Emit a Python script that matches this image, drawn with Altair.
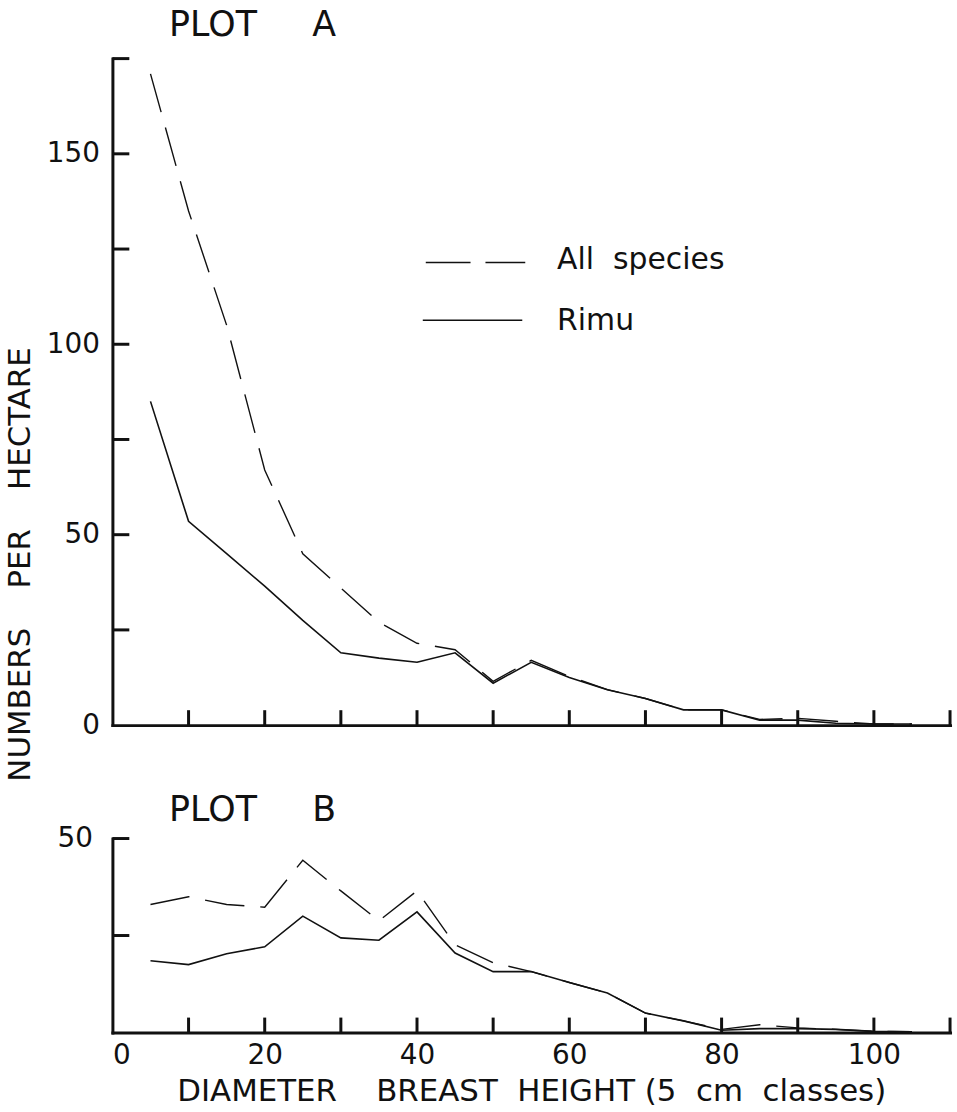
import altair as alt
import pandas as pd

# ---- data ----
dbh = [5, 10, 15, 20, 25, 30, 35, 40, 45, 50, 55, 60, 65, 70, 75, 80, 85, 90, 95, 100, 105]
a_all = [171, 135, 105, 67, 45, 36, 27, 21.5, 19.8, 11.5, 17, 12.8, 9.3, 7, 4, 4, 1.5, 1.8, 1.0, 0.3, 0.3]
a_rimu = [85, 53.5, 45, 36.5, 27.5, 19, 17.6, 16.5, 19, 11, 16.5, 12.5, 9.3, 7, 4, 4, 1.3, 1.3, 0.5, 0.3, 0.3]
b_all = [33, 35, 33, 32.3, 44.4, 36.5, 28.8, 36.5, 22.6, 18, 15.7, 12.9, 10.2, 5, 3, 0.8, 2, 1.2, 0.8, 0.3, 0.2]
b_rimu = [18.5, 17.5, 20.3, 22.1, 30, 24.4, 23.8, 31.1, 20.5, 15.7, 15.7, 12.9, 10.2, 5, 3, 0.6, 1.0, 1.0, 0.8, 0.3, 0.2]

x_ticks = [10, 20, 30, 40, 50, 60, 70, 80, 90, 100, 110]
x_labels = [0, 20, 40, 60, 80, 100]
a_yticks = [25, 50, 75, 100, 125, 150, 175]
a_ylabels = [0, 50, 100, 150]
b_yticks = [25, 50]
b_ylabels = [50]
series = ["All species", "Rimu"]

FONT = "DejaVu Sans"
NB = "\u00a0"
INK = "#111111"
W = 842
HA = 670
HB = 195
XD = [0, 110]


def long_df(all_vals, rimu_vals):
    rows = []
    for x, a, r in zip(dbh, all_vals, rimu_vals):
        rows.append({"dbh": x, "n": a, "series": series[0]})
        rows.append({"dbh": x, "n": r, "series": series[1]})
    return pd.DataFrame(rows)


def panel(df, ymax, h, yticks, title, title_offset, xaxis, yaxis, legend=False):
    xs = alt.Scale(domain=XD, nice=False, zero=False)
    ys = alt.Scale(domain=[0, ymax], nice=False)
    base = alt.Chart(df)
    rimu = base.transform_filter(alt.datum.series == series[1]).mark_line(
        color=INK, strokeWidth=1.6
    ).encode(x=alt.X("dbh:Q", scale=xs, axis=xaxis), y=alt.Y("n:Q", scale=ys, axis=yaxis))
    allsp = base.transform_filter(alt.datum.series == series[0]).mark_line(
        color=INK, strokeWidth=1.4, strokeDash=[40, 16]
    ).encode(x=alt.X("dbh:Q", scale=xs), y=alt.Y("n:Q", scale=ys))
    xt = alt.Chart(pd.DataFrame({"dbh": x_ticks})).mark_rule(color=INK, strokeWidth=3).encode(
        x=alt.X("dbh:Q", scale=xs), y=alt.value(h), y2=alt.value(h - 15)
    )
    yt = alt.Chart(pd.DataFrame({"n": yticks})).mark_rule(color=INK, strokeWidth=3).encode(
        y=alt.Y("n:Q", scale=ys), x=alt.value(0), x2=alt.value(17)
    )
    layers = [rimu, allsp, xt, yt]
    if legend:
        one = pd.DataFrame({"a": [0]})
        l1 = alt.Chart(one).mark_rule(color=INK, strokeWidth=1.4, strokeDash=[45, 15]).encode(
            x=alt.value(315), x2=alt.value(415), y=alt.value(205)
        )
        l2 = alt.Chart(one).mark_rule(color=INK, strokeWidth=1.6).encode(
            x=alt.value(312), x2=alt.value(412), y=alt.value(263)
        )
        t1 = alt.Chart(one).mark_text(
            text=series[0].replace(" ", NB * 2), font=FONT, fontSize=30, align="left",
            baseline="middle", color=INK
        ).encode(x=alt.value(447), y=alt.value(202))
        t2 = alt.Chart(one).mark_text(
            text=series[1], font=FONT, fontSize=30, align="left", baseline="middle", color=INK
        ).encode(x=alt.value(447), y=alt.value(264))
        layers += [l1, l2, t1, t2]
    return alt.layer(*layers).properties(
        width=W,
        height=h,
        title=alt.TitleParams(
            title, anchor="start", frame="group", dx=57, fontSize=35, font=FONT,
            fontWeight="normal", color=INK, offset=title_offset
        ),
    )


axis_common = dict(
    ticks=False, grid=False, domainColor=INK, domainWidth=3, domainCap="square",
    labelFont=FONT, labelFontSize=28, labelColor=INK,
)

xaxis_a = alt.Axis(labels=False, title=None, **axis_common)
yaxis_a = alt.Axis(
    values=a_ylabels, labelPadding=13,
    title="NUMBERS" + NB * 4 + "PER" + NB * 4 + "HECTARE",
    titleFont=FONT, titleFontSize=31, titleFontWeight="normal", titleColor=INK,
    titleAngle=270, titleX=-92, titleY=508, titleAlign="center", titleBaseline="middle",
    **axis_common,
)
xaxis_b = alt.Axis(
    values=x_labels, labelPadding=9, format="d",
    title=NB * 3 + "DIAMETER" + NB * 4 + "BREAST" + NB * 2 + "HEIGHT" + NB + "(5" + NB * 2
    + "cm" + NB * 2 + "classes)",
    titleFont=FONT, titleFontSize=31, titleFontWeight="normal", titleColor=INK, titlePadding=7,
    **axis_common,
)
yaxis_b = alt.Axis(values=b_ylabels, labelPadding=20, title=None, **axis_common)

A = panel(long_df(a_all, a_rimu), 175, HA, a_yticks, "PLOT" + NB * 5 + "A", 14,
          xaxis_a, yaxis_a, legend=True)
B = panel(long_df(b_all, b_rimu), 50, HB, b_yticks, "PLOT" + NB * 5 + "B", -3,
          xaxis_b, yaxis_b)

chart = alt.vconcat(A, B, spacing=114, bounds="flush").configure_view(stroke=None).properties(
    background="white"
)

chart.save("out.html", embed_options={"renderer": "svg", "actions": False})
